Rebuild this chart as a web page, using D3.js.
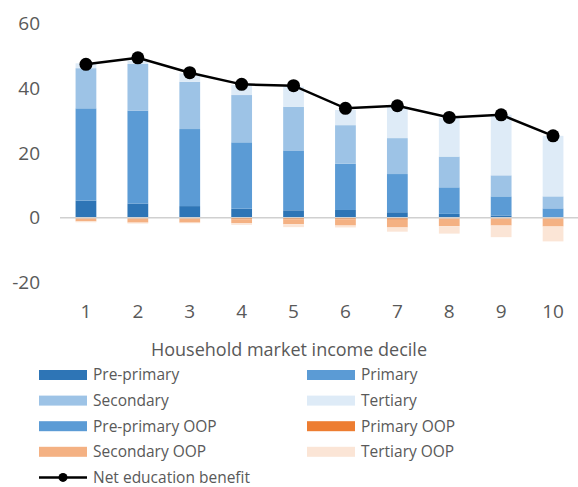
<!DOCTYPE html>
<html>
<head>
<meta charset="utf-8">
<script src="https://d3js.org/d3.v7.min.js"></script>
<style>
  html, body { margin: 0; background: #fff; }
  text { font-family: "Open Sans", sans-serif; fill: #595959; }
</style>
</head>
<body>
<script>
// deciles and series
var deciles = ['1', '2', '3', '4', '5', '6', '7', '8', '9', '10'];

var prePrimary    = [5.3, 4.4, 3.6, 2.8, 2.3, 2.4, 1.7, 1.2, 0.7, 0.2];
var primary       = [28.5, 28.7, 23.8, 20.5, 18.5, 14.3, 11.8, 8.2, 5.9, 2.7];
var secondary     = [12.4, 14.4, 14.6, 14.6, 13.5, 11.9, 11.1, 9.5, 6.5, 3.7];
var tertiary      = [1.5, 1.0, 2.6, 3.1, 6.2, 4.7, 9.7, 11.9, 18.7, 18.7];
var prePrimaryOOP = [0, 0, 0, 0, 0, 0, 0, 0, 0, 0];
var primaryOOP    = [-0.1, -0.1, -0.1, -0.5, -0.5, -0.5, -0.6, -0.2, -0.1, -0.1];
var secondaryOOP  = [-1.0, -1.4, -1.4, -1.2, -1.5, -1.9, -2.4, -2.4, -2.3, -2.6];
var tertiaryOOP   = [-0.3, -0.3, -0.2, -0.5, -0.9, -0.6, -1.3, -2.3, -3.6, -4.6];
var netBenefit    = [47.4, 49.4, 44.8, 41.2, 40.8, 33.8, 34.6, 31.0, 31.8, 25.3];

var yTicks = [-20, 0, 20, 40, 60];

var series = [
  {key: 'Pre-primary', values: prePrimary, color: '#2e75b6'},
  {key: 'Primary', values: primary, color: '#5b9bd5'},
  {key: 'Secondary', values: secondary, color: '#9dc3e6'},
  {key: 'Tertiary', values: tertiary, color: '#deebf7'},
  {key: 'Pre-primary OOP', values: prePrimaryOOP, color: '#5b9bd5'},
  {key: 'Primary OOP', values: primaryOOP, color: '#ed7d31'},
  {key: 'Secondary OOP', values: secondaryOOP, color: '#f4b183'},
  {key: 'Tertiary OOP', values: tertiaryOOP, color: '#fbe5d6'}
];

var width = 578, height = 487;

var svg = d3.select('body').append('svg')
  .attr('width', width)
  .attr('height', height);

var rows = deciles.map(function (d, i) {
  var r = {decile: d};
  series.forEach(function (s) { r[s.key] = s.values[i]; });
  return r;
});

var stacked = d3.stack()
  .keys(series.map(function (s) { return s.key; }))
  .offset(d3.stackOffsetDiverging)(rows);

var x = d3.scaleBand()
  .domain(deciles)
  .range([60, 579])
  .paddingInner(0.6)
  .paddingOuter(0.3);

var y = d3.scaleLinear()
  .domain([-20, 60])
  .range([282.5, 23.5]);

// y tick labels
svg.append('g').selectAll('text')
  .data(yTicks)
  .enter().append('text')
  .attr('x', 40)
  .attr('y', function (d) { return y(d); })
  .attr('dy', '0.35em')
  .attr('text-anchor', 'end')
  .style('font-size', '19px')
  .text(function (d) { return d; });

// bars
svg.append('g').selectAll('g')
  .data(stacked)
  .enter().append('g')
  .attr('fill', function (d, i) { return series[i].color; })
  .selectAll('rect')
  .data(function (d) { return d; })
  .enter().append('rect')
  .attr('x', function (d) { return x(d.data.decile); })
  .attr('width', x.bandwidth())
  .attr('y', function (d) { return y(Math.max(d[0], d[1])); })
  .attr('height', function (d) { return Math.abs(y(d[0]) - y(d[1])); });

// zero line
svg.append('line')
  .attr('x1', 60).attr('x2', 579)
  .attr('y1', y(0)).attr('y2', y(0))
  .attr('stroke', '#d0d0d0')
  .attr('stroke-width', 1.5);

// net benefit line
var line = d3.line()
  .x(function (d, i) { return x(deciles[i]) + x.bandwidth() / 2; })
  .y(function (d) { return y(d); });

svg.append('path')
  .datum(netBenefit)
  .attr('d', line)
  .attr('fill', 'none')
  .attr('stroke', '#000')
  .attr('stroke-width', 2.5);

svg.append('g').selectAll('circle')
  .data(netBenefit)
  .enter().append('circle')
  .attr('cx', function (d, i) { return x(deciles[i]) + x.bandwidth() / 2; })
  .attr('cy', function (d) { return y(d); })
  .attr('r', 6.5)
  .attr('fill', '#000');

// x tick labels
svg.append('g').selectAll('text')
  .data(deciles)
  .enter().append('text')
  .attr('x', function (d) { return x(d) + x.bandwidth() / 2; })
  .attr('y', 318)
  .attr('text-anchor', 'middle')
  .style('font-size', '19px')
  .text(function (d) { return d; });

svg.append('text')
  .attr('x', 289)
  .attr('y', 356)
  .attr('text-anchor', 'middle')
  .style('font-size', '18px')
  .text('Household market income decile');

// legend
var legend = svg.append('g');
var items = legend.selectAll('g')
  .data(series)
  .enter().append('g')
  .attr('transform', function (d, i) {
    return 'translate(' + (i % 2 ? 307 : 39) + ',' + (375 + Math.floor(i / 2) * 25.6) + ')';
  });

items.append('rect')
  .attr('x', 0).attr('y', -5)
  .attr('width', 48).attr('height', 10)
  .attr('fill', function (d) { return d.color; });

items.append('text')
  .attr('x', 54)
  .attr('dy', '0.35em')
  .style('font-size', '15.5px')
  .text(function (d) { return d.key; });

var lineItem = legend.append('g')
  .attr('transform', 'translate(39,' + (375 + 4 * 25.6) + ')');
lineItem.append('line')
  .attr('x1', 0).attr('x2', 48)
  .attr('stroke', '#000').attr('stroke-width', 2.5);
lineItem.append('circle')
  .attr('cx', 24).attr('r', 4.5).attr('fill', '#000');
lineItem.append('text')
  .attr('x', 54)
  .attr('dy', '0.35em')
  .style('font-size', '15.5px')
  .text('Net education benefit');
</script>
</body>
</html>
